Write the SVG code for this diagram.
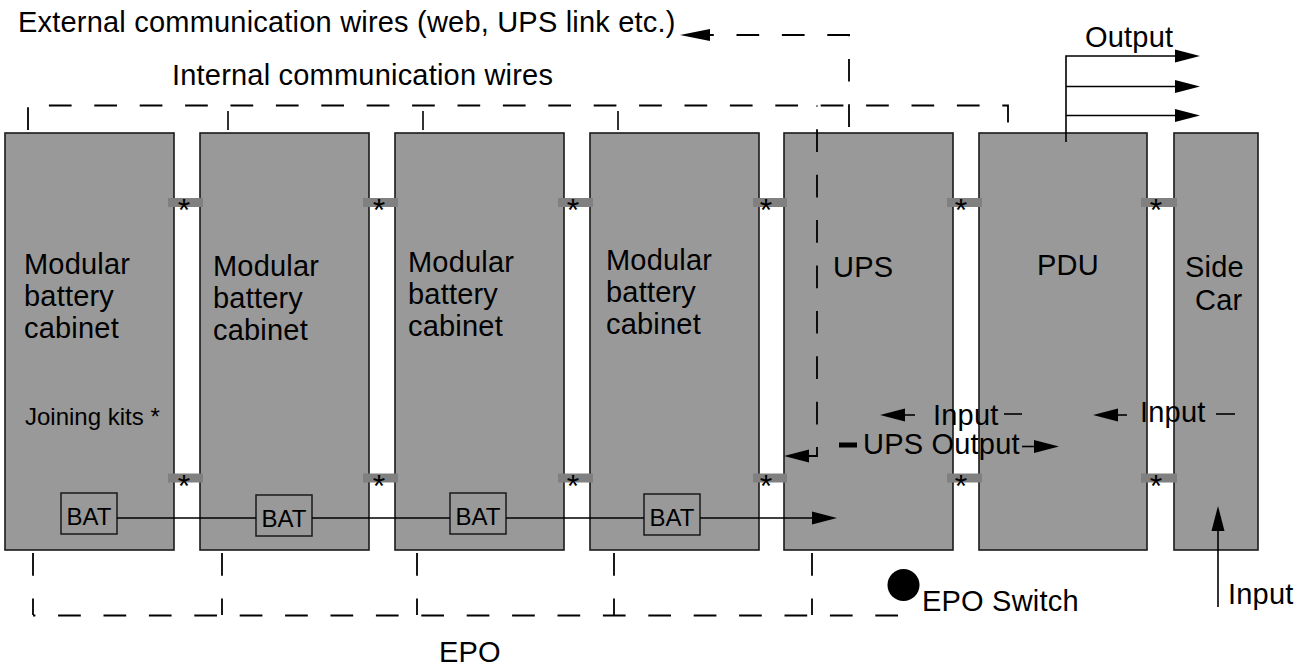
<svg xmlns="http://www.w3.org/2000/svg" width="1306" height="668" viewBox="0 0 1306 668">
<style>
  text { font-family: "Liberation Sans", Arial, Helvetica, sans-serif; fill: #000; }
  .lbl { font-size: 29px; letter-spacing: 0.2px; }
  .sm { font-size: 24px; }
  .batt { font-size: 24px; text-anchor: middle; }
  .star { font-size: 32px; text-anchor: middle; }
  .cab { fill: #999999; stroke: #1a1a1a; stroke-width: 1.6; }
  .bat { fill: none; stroke: #1a1a1a; stroke-width: 1.5; }
  .kit { fill: #808080; }
  .dash { fill: none; stroke: #000; stroke-width: 1.8; stroke-dasharray: 22.7 22.7; }
  .ln { fill: none; stroke: #000; stroke-width: 1.6; }
</style>
<defs>
  <marker id="ah" markerUnits="userSpaceOnUse" markerWidth="26" markerHeight="14" refX="0" refY="7" orient="auto">
    <path d="M0,0.5 L25,7 L0,13.5 z" fill="#000"/>
  </marker>
  <marker id="ahL" markerUnits="userSpaceOnUse" markerWidth="31" markerHeight="14" refX="0" refY="7" orient="auto">
    <path d="M0,1 L30,7 L0,13 z" fill="#000"/>
  </marker>
</defs>

<rect x="0" y="0" width="1306" height="668" fill="#fff"/>

<g id="cabinet1">
  <rect class="cab" x="5" y="133" width="169" height="417"/>
  <text class="lbl" x="24" y="274">Modular</text>
  <text class="lbl" x="24" y="306">battery</text>
  <text class="lbl" x="24" y="338">cabinet</text>
  <text class="sm" x="25" y="425">Joining kits *</text>
  <rect class="bat" x="61" y="493" width="56" height="41"/>
  <text class="batt" x="89" y="525">BAT</text>
</g>
<g id="cabinet2">
  <rect class="cab" x="200" y="133" width="169" height="417"/>
  <text class="lbl" x="213" y="276">Modular</text>
  <text class="lbl" x="213" y="308">battery</text>
  <text class="lbl" x="213" y="340">cabinet</text>
  <rect class="bat" x="256" y="495" width="56" height="41"/>
  <text class="batt" x="284" y="527">BAT</text>
</g>
<g id="cabinet3">
  <rect class="cab" x="395" y="133" width="169" height="417"/>
  <text class="lbl" x="408" y="272">Modular</text>
  <text class="lbl" x="408" y="304">battery</text>
  <text class="lbl" x="408" y="336">cabinet</text>
  <rect class="bat" x="450" y="493" width="56" height="41"/>
  <text class="batt" x="478" y="525">BAT</text>
</g>
<g id="cabinet4">
  <rect class="cab" x="590" y="133" width="169" height="417"/>
  <text class="lbl" x="606" y="270">Modular</text>
  <text class="lbl" x="606" y="302">battery</text>
  <text class="lbl" x="606" y="334">cabinet</text>
  <rect class="bat" x="644" y="494" width="56" height="41"/>
  <text class="batt" x="672" y="526">BAT</text>
</g>
<g id="ups">
  <rect class="cab" x="784" y="133" width="169" height="417"/>
  <text class="lbl" x="833" y="277">UPS</text>
</g>
<g id="pdu">
  <rect class="cab" x="979" y="133" width="168" height="417"/>
  <text class="lbl" x="1037" y="275">PDU</text>
</g>
<g id="sidecar">
  <rect class="cab" x="1174" y="133" width="84" height="417"/>
  <text class="lbl" x="1185" y="277">Side</text>
  <text class="lbl" x="1195" y="310">Car</text>
</g>
<g id="epo-switch">
  <circle cx="903.5" cy="585" r="16" fill="#000"/>
  <text class="lbl" x="922" y="611">EPO Switch</text>
</g>

<g id="joining-kits">
  <rect class="kit" x="168" y="198" width="35" height="9"/>
  <rect class="kit" x="363" y="198" width="35" height="9"/>
  <rect class="kit" x="558" y="198" width="35" height="9"/>
  <rect class="kit" x="753" y="198" width="34" height="9"/>
  <rect class="kit" x="947" y="198" width="35" height="9"/>
  <rect class="kit" x="1141" y="198" width="36" height="9"/>
  <rect class="kit" x="168" y="473.5" width="35" height="9"/>
  <rect class="kit" x="363" y="473.5" width="35" height="9"/>
  <rect class="kit" x="558" y="473.5" width="35" height="9"/>
  <rect class="kit" x="753" y="473.5" width="34" height="9"/>
  <rect class="kit" x="947" y="473.5" width="35" height="9"/>
  <rect class="kit" x="1141" y="473.5" width="36" height="9"/>
  <text class="star" x="184" y="221">*</text>
  <text class="star" x="379" y="221">*</text>
  <text class="star" x="573" y="221">*</text>
  <text class="star" x="766" y="221">*</text>
  <text class="star" x="961" y="221">*</text>
  <text class="star" x="1156" y="221">*</text>
  <text class="star" x="184" y="497">*</text>
  <text class="star" x="379" y="497">*</text>
  <text class="star" x="573" y="497">*</text>
  <text class="star" x="766" y="497">*</text>
  <text class="star" x="961" y="497">*</text>
  <text class="star" x="1156" y="497">*</text>
</g>

<g id="connectors">
  <!-- internal communication wires -->
  <path class="dash" d="M28,130 V105.5 H1008 V133"/>
  <path class="ln" d="M228,111 V130 M423,111 V130 M618,111 V130"/>
  <path class="dash" style="stroke-dashoffset:21.6" d="M817,105.5 V456 H809" marker-end="url(#ah)"/>
  <!-- external communication wires -->
  <path class="dash" d="M849,127 V35"/>
  <path class="dash" d="M850,35 H710" marker-end="url(#ahL)"/>
  <!-- output -->
  <path class="ln" d="M1066,142 V56 H1175" marker-end="url(#ah)"/>
  <path class="ln" d="M1066,86.5 H1175" marker-end="url(#ah)"/>
  <path class="ln" d="M1066,115.5 H1175" marker-end="url(#ah)"/>
  <!-- battery line -->
  <path class="ln" d="M117,518 H256 M312,518 H450 M506,518 H644"/>
  <path class="ln" d="M700,518 H812" marker-end="url(#ah)"/>
  <!-- UPS input / output -->
  <path class="ln" d="M915,415 H905" marker-end="url(#ah)"/>
  <path class="ln" d="M1004,414 H1022"/>
  <path d="M839,445 H857" stroke="#000" stroke-width="5" fill="none"/>
  <path class="ln" d="M1022,446.5 H1034" marker-end="url(#ah)"/>
  <!-- side car input -->
  <path class="ln" d="M1127,415 H1118" marker-end="url(#ah)"/>
  <path class="ln" d="M1216,414 H1235"/>
  <path class="ln" d="M1218,607 V531" marker-end="url(#ah)"/>
  <!-- EPO -->
  <path class="dash" d="M33,553 V615 M222,553 V615 M417,553 V615 M614,553 V615 M812,553 V615"/>
  <path class="dash" d="M898,615.5 H33"/>
</g>

<g id="labels">
  <text class="lbl" x="18" y="32">External communication wires (web, UPS link etc.)</text>
  <text class="lbl" x="172" y="85">Internal communication wires</text>
  <text class="lbl" x="1085" y="47">Output</text>
  <text class="lbl" x="933" y="425">Input</text>
  <text class="lbl" x="863" y="454">UPS Output</text>
  <text class="lbl" x="1140" y="422">Input</text>
  <text class="lbl" x="1228" y="604">Input</text>
  <text class="lbl" x="439" y="662">EPO</text>
</g>
</svg>
